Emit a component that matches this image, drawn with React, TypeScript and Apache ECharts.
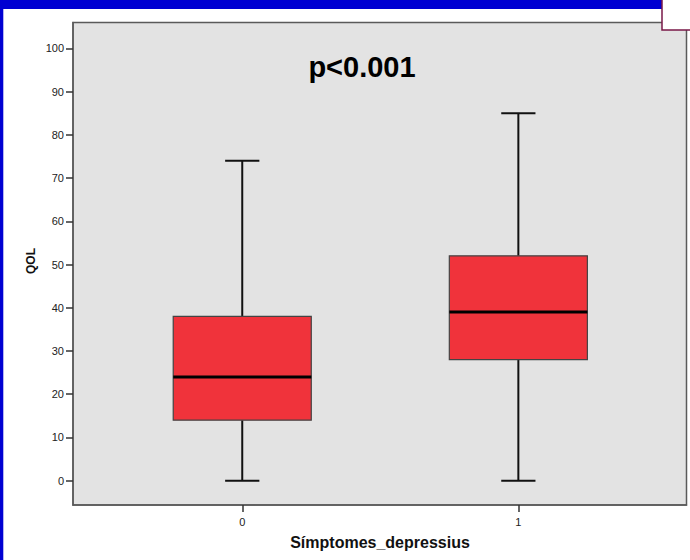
import React, { useEffect, useRef } from "react";
import * as echarts from "echarts";

// Groups of the depressive-symptoms indicator and their QOL distributions
const groups = [0, 1];
const whiskerLow = [0, 0];
const quartile1 = [14, 28];
const medians = [24, 39];
const quartile3 = [38, 52];
const whiskerHigh = [74, 85];
const yTicks = [0, 10, 20, 30, 40, 50, 60, 70, 80, 90, 100];
const pValueText = "p<0.001";

const FONT = "'Liberation Sans', Arial, sans-serif";

export default function App() {
  const ref = useRef<HTMLDivElement>(null);

  useEffect(() => {
    if (!ref.current) return;
    const chart = echarts.init(ref.current, null, { renderer: "svg" });

    const boxData = groups.map((g, i) => [
      g,
      whiskerLow[i],
      quartile1[i],
      medians[i],
      quartile3[i],
      whiskerHigh[i],
    ]);

    const renderBox = (params: any, api: any) => {
      const x = api.value(0);
      const low = api.coord([x, api.value(1)]);
      const q1 = api.coord([x, api.value(2)]);
      const med = api.coord([x, api.value(3)]);
      const q3 = api.coord([x, api.value(4)]);
      const high = api.coord([x, api.value(5)]);
      const boxW = api.size([0.5, 0])[0];
      const capW = api.size([0.124, 0])[0];
      const cx = low[0];
      const whiskerStyle = { stroke: "#111", lineWidth: 2 };
      return {
        type: "group",
        children: [
          {
            type: "line",
            shape: { x1: cx, y1: high[1], x2: cx, y2: q3[1] },
            style: whiskerStyle,
          },
          {
            type: "line",
            shape: { x1: cx, y1: q1[1], x2: cx, y2: low[1] },
            style: whiskerStyle,
          },
          {
            type: "line",
            shape: { x1: cx - capW / 2, y1: high[1], x2: cx + capW / 2, y2: high[1] },
            style: whiskerStyle,
          },
          {
            type: "line",
            shape: { x1: cx - capW / 2, y1: low[1], x2: cx + capW / 2, y2: low[1] },
            style: whiskerStyle,
          },
          {
            type: "rect",
            shape: { x: cx - boxW / 2, y: q3[1], width: boxW, height: q1[1] - q3[1] },
            style: { fill: "#f0333b", stroke: "#444", lineWidth: 1.2 },
          },
          {
            type: "line",
            shape: { x1: cx - boxW / 2, y1: med[1], x2: cx + boxW / 2, y2: med[1] },
            style: { stroke: "#000", lineWidth: 3 },
          },
        ],
      };
    };

    chart.setOption({
      animation: false,
      backgroundColor: "#ffffff",
      grid: {
        left: 73,
        top: 22.5,
        width: 613.5,
        height: 482.5,
        show: true,
        backgroundColor: "#e3e3e3",
        borderColor: "#5a5a5a",
        borderWidth: 1.5,
      },
      xAxis: {
        type: "value",
        min: -0.613,
        max: 1.609,
        splitLine: { show: false },
        axisLine: { show: true, onZero: false, lineStyle: { color: "#5a5a5a", width: 1.5 } },
        axisTick: {
          show: true,
          length: 7,
          customValues: groups,
          lineStyle: { color: "#333", width: 1.5 },
        },
        axisLabel: {
          customValues: groups,
          color: "#222",
          fontSize: 11,
          fontFamily: FONT,
          margin: 11,
        },
      },
      yAxis: {
        type: "value",
        min: -5.62,
        max: 105.97,
        splitLine: { show: false },
        axisLine: { show: true, onZero: false, lineStyle: { color: "#5a5a5a", width: 1.5 } },
        axisTick: {
          show: true,
          length: 7,
          customValues: yTicks,
          lineStyle: { color: "#333", width: 1.5 },
        },
        axisLabel: {
          customValues: yTicks,
          color: "#222",
          fontSize: 11,
          fontFamily: FONT,
          margin: 9,
        },
      },
      series: [
        {
          type: "custom",
          renderItem: renderBox,
          data: boxData,
          encode: { x: 0, y: [1, 2, 3, 4, 5] },
          z: 3,
        },
      ],
      graphic: [
        {
          type: "rect",
          left: 0,
          top: 0,
          shape: { width: 690, height: 9 },
          style: { fill: "#0000d2" },
          z: 10,
        },
        {
          type: "rect",
          left: 0,
          top: 0,
          shape: { width: 3.3, height: 560 },
          style: { fill: "#0000d2" },
          z: 10,
        },
        {
          type: "rect",
          shape: { x: 662, y: -2, width: 40, height: 32 },
          style: { fill: "#ffffff", stroke: "#7a1848", lineWidth: 1.5 },
          z: 11,
        },
        {
          type: "text",
          x: 362,
          y: 66.5,
          style: {
            text: pValueText,
            font: `bold 29px ${FONT}`,
            fill: "#000",
            align: "center",
            verticalAlign: "middle",
          },
          z: 12,
        },
        {
          type: "text",
          x: 380,
          y: 542.5,
          style: {
            text: "Símptomes_depressius",
            font: `bold 16px ${FONT}`,
            fill: "#111",
            align: "center",
            verticalAlign: "middle",
          },
          z: 12,
        },
        {
          type: "text",
          x: 31,
          y: 261,
          rotation: Math.PI / 2,
          style: {
            text: "QOL",
            font: `bold 12px ${FONT}`,
            fill: "#111",
            align: "center",
            verticalAlign: "middle",
          },
          z: 12,
        },
      ],
    });

    return () => chart.dispose();
  }, []);

  return (
    <div
      ref={ref}
      style={{ position: "fixed", left: 0, top: 0, width: 690, height: 560 }}
    />
  );
}
